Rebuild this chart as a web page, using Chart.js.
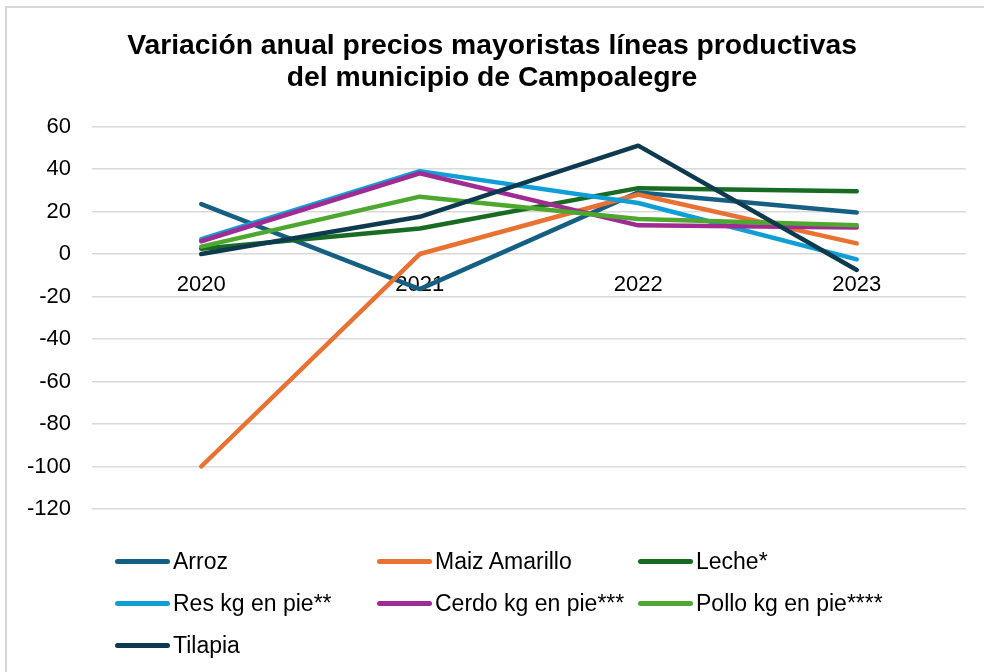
<!DOCTYPE html>
<html>
<head>
<meta charset="utf-8">
<script src="https://cdn.jsdelivr.net/npm/chart.js@4.4.1/dist/chart.umd.min.js"></script>
<style>
  html, body { margin: 0; padding: 0; background: #ffffff; overflow: hidden; }
  #wrap { position: relative; width: 984px; height: 672px; overflow: hidden; background: #fff; }
  #frame { position: absolute; left: 5px; top: 6px; width: 1000px; height: 700px; border: 2px solid #d9d9d9; box-sizing: border-box; }
  canvas { position: absolute; left: 0; top: 0; }
  #legend { position: absolute; left: 0; top: 540px; width: 984px; font-family: "Liberation Sans", Arial, sans-serif; font-size: 23px; color: #000; }
  .item { position: absolute; height: 42px; line-height: 42px; white-space: nowrap; }
  .swatch { position: absolute; top: 18.5px; width: 55px; height: 5px; border-radius: 3px; left: 0; }
  .lbl { position: absolute; left: 58px; top: 0; }
</style>
</head>
<body>
<div id="wrap">
  <div id="frame"></div>
  <canvas id="c" width="984" height="672"></canvas>
  <div id="legend"></div>
</div>
<script>
const chartTitle = ["Variación anual precios mayoristas líneas productivas", "del municipio de Campoalegre"];
const years = ["2020", "2021", "2022", "2023"];
const seriesNames = ["Arroz", "Maiz Amarillo", "Leche*", "Res kg en pie**", "Cerdo kg en pie***", "Pollo kg en pie****", "Tilapia"];
const arroz   = [23.5, -16.5, 29, 19.5];
const maiz    = [-100, 0, 28, 5];
const leche   = [2.5, 12, 31, 29.5];
const res     = [7, 39, 24, -2.5];
const cerdo   = [6, 38, 13.5, 12.5];
const pollo   = [3.5, 27, 16.5, 13.5];
const tilapia = [0, 17.5, 51, -7.5];
const seriesValues = [arroz, maiz, leche, res, cerdo, pollo, tilapia];
const seriesColors = ["#156082", "#E97132", "#196B24", "#0F9ED5", "#A02B93", "#4EA72E", "#0D3A4F"];
const yTicks = [60, 40, 20, 0, -20, -40, -60, -80, -100, -120];

const FONT = "'Liberation Sans', Arial, sans-serif";

const datasets = seriesNames.map((n, i) => ({
  label: n,
  data: seriesValues[i],
  borderColor: seriesColors[i],
  backgroundColor: seriesColors[i],
  borderWidth: 4.5,
  pointRadius: 0,
  pointHoverRadius: 0,
  tension: 0,
  fill: false,
  borderCapStyle: 'round',
  borderJoinStyle: 'round',
  order: seriesNames.length - i
}));

new Chart(document.getElementById('c'), {
  type: 'line',
  data: { labels: years, datasets },
  options: {
    responsive: false,
    animation: false,
    layout: { padding: { left: 18, right: 18, top: 0, bottom: 163 } },
    plugins: {
      legend: { display: false },
      tooltip: { enabled: false },
      title: {
        display: true,
        text: chartTitle,
        color: '#000',
        font: { family: FONT, size: 28.3, weight: 'bold', lineHeight: 1.14 },
        padding: { top: 30, bottom: 32 }
      }
    },
    scales: {
      x: {
        position: { y: 0 },
        offset: true,
        grid: { display: false, drawTicks: false },
        border: { display: false },
        ticks: { color: '#000', font: { family: FONT, size: 22 }, padding: 18, maxRotation: 0 }
      },
      y: {
        min: -120, max: 60,
        afterBuildTicks: (s) => { s.ticks = yTicks.map(v => ({ value: v })); },
        afterFit: (s) => { s.width = 74; },
        grid: { color: '#d9d9d9', lineWidth: 1.5, drawTicks: false },
        border: { display: false },
        ticks: { color: '#000', font: { family: FONT, size: 22 }, padding: 21 }
      }
    }
  }
});

// legend (three fixed columns as in the reference)
const legend = document.getElementById('legend');
const colX = [115, 377, 638];
seriesNames.forEach((n, i) => {
  const it = document.createElement('div');
  it.className = 'item';
  it.style.left = colX[i % 3] + 'px';
  it.style.top = (Math.floor(i / 3) * 42) + 'px';
  const sw = document.createElement('div');
  sw.className = 'swatch';
  sw.style.background = seriesColors[i];
  const lb = document.createElement('span');
  lb.className = 'lbl';
  lb.textContent = n;
  it.appendChild(sw); it.appendChild(lb);
  legend.appendChild(it);
});
</script>
</body>
</html>
